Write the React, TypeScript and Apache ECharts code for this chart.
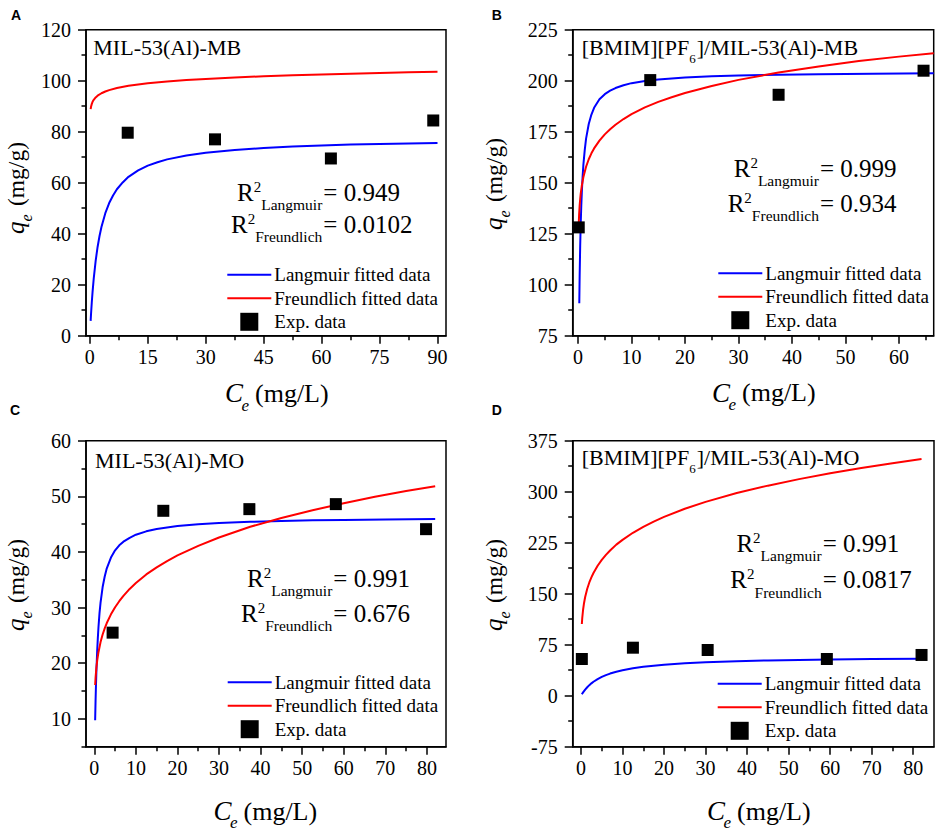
import React, { useEffect, useRef } from 'react';
import * as echarts from 'echarts';

const SERIF = 'Liberation Serif, serif';
const SANS = 'Liberation Sans, sans-serif';

// ---------- Panel A : MIL-53(Al)-MB ----------
const aLangmuir = [[0.2, 5.83], [0.3, 8.43], [0.5, 13.1], [0.7, 17.17], [1, 22.41], [1.5, 29.38], [2, 34.79], [2.5, 39.11], [3, 42.63], [4, 48.05], [5, 52.02], [6, 55.0], [7, 57.44], [8.5, 60.1], [10, 62.31], [12.5, 64.8], [15, 66.7], [17.5, 68.0], [20, 69.15], [25, 70.7], [30, 71.78], [37.5, 72.8], [45, 73.64], [52.5, 74.2], [60, 74.6], [67.5, 74.95], [75, 75.2], [82.5, 75.42], [90, 75.6]];
const aFreundlich = [[0.2, 88.86], [0.3, 89.76], [0.5, 90.91], [0.7, 91.7], [1, 92.5], [1.5, 93.44], [2, 94.12], [3, 95.08], [4, 95.75], [5, 96.3], [7, 97.11], [10, 97.98], [12.5, 98.52], [15, 98.98], [20, 99.69], [25, 100.24], [30, 100.71], [37.5, 101.28], [45, 101.74], [52.5, 102.13], [60, 102.47], [67.5, 102.77], [75, 103.04], [82.5, 103.29], [90, 103.51]];
const aExp = [[9.8, 79.6], [32.4, 77.0], [62.4, 69.5], [88.9, 84.4]];
const aXTicks = [0, 15, 30, 45, 60, 75, 90];
const aXMinor = [7.5, 22.5, 37.5, 52.5, 67.5, 82.5];
const aYTicks = [0, 20, 40, 60, 80, 100, 120];
const aYMinor = [10, 30, 50, 70, 90, 110];

// ---------- Panel B : [BMIM][PF6]/MIL-53(Al)-MB ----------
const bLangmuir = [[0.23, 90.9], [0.3, 104.4], [0.4, 119.0], [0.5, 129.9], [0.6, 138.3], [0.7, 145.0], [0.85, 152.8], [1, 158.9], [1.25, 166.0], [1.5, 171.6], [2, 178.8], [2.5, 183.4], [3, 186.7], [4, 190.9], [5, 193.4], [6, 195.1], [7, 196.4], [8.5, 197.8], [10, 198.8], [12.5, 199.9], [15, 200.6], [20, 201.6], [25, 202.2], [30, 202.6], [37.5, 202.95], [45, 203.2], [55, 203.45], [66.5, 203.6]];
const bFreundlich = [[0.12, 129.0], [0.2, 134.4], [0.3, 138.8], [0.4, 142.0], [0.5, 144.6], [0.7, 148.5], [1, 152.8], [1.5, 157.8], [2, 161.5], [2.5, 164.4], [3, 166.8], [4, 170.6], [5, 173.7], [6, 176.2], [7, 178.4], [8.5, 181.2], [10, 183.6], [12.5, 186.9], [15, 189.6], [17.5, 191.9], [20, 194.0], [25, 197.4], [30, 200.4], [37.5, 204.0], [45, 207.0], [52.5, 209.6], [60, 211.8], [66.5, 213.5]];
const bExp = [[0.13, 128.1], [13.5, 200.3], [37.5, 193.1], [64.6, 204.9]];
const bXTicks = [0, 10, 20, 30, 40, 50, 60];
const bXMinor = [5, 15, 25, 35, 45, 55, 65];
const bYTicks = [75, 100, 125, 150, 175, 200, 225];
const bYMinor = [87.5, 112.5, 137.5, 162.5, 187.5, 212.5];

// ---------- Panel C : MIL-53(Al)-MO ----------
const cLangmuir = [[0.2, 9.76], [0.3, 13.24], [0.4, 16.1], [0.5, 18.54], [0.7, 22.37], [0.85, 24.6], [1, 26.48], [1.25, 29.0], [1.5, 30.89], [2, 33.7], [2.5, 35.6], [3, 37.07], [4, 39.0], [5, 40.29], [6, 41.2], [7, 41.85], [8.5, 42.55], [10, 43.1], [12.5, 43.71], [15, 44.13], [20, 44.66], [25, 44.98], [30, 45.2], [37.5, 45.41], [45, 45.57], [52.5, 45.68], [60, 45.76], [70, 45.84], [82, 45.91]];
const cFreundlich = [[0.2, 16.08], [0.3, 17.4], [0.5, 19.22], [0.7, 20.52], [1, 21.99], [1.5, 23.8], [2, 25.16], [2.5, 26.26], [3, 27.23], [4, 28.79], [5, 30.07], [6, 31.15], [7, 32.11], [8.5, 33.36], [10, 34.41], [12.5, 35.97], [15, 37.24], [17.5, 38.36], [20, 39.38], [25, 41.09], [30, 42.61], [37.5, 44.53], [45, 46.11], [52.5, 47.5], [60, 48.76], [67.5, 49.91], [75, 50.97], [82, 51.82]];
const cExp = [[4.4, 25.5], [16.6, 47.4], [37.3, 47.7], [58.1, 48.6], [79.8, 44.1]];
const cXTicks = [0, 10, 20, 30, 40, 50, 60, 70, 80];
const cXMinor = [5, 15, 25, 35, 45, 55, 65, 75];
const cYTicks = [10, 20, 30, 40, 50, 60];
const cYMinor = [5, 15, 25, 35, 45, 55];

// ---------- Panel D : [BMIM][PF6]/MIL-53(Al)-MO ----------
const dLangmuir = [[0.2, 2.04], [0.5, 4.84], [1, 8.94], [1.5, 12.44], [2, 15.49], [2.5, 18.14], [3, 20.51], [4, 24.36], [5, 27.67], [6, 30.31], [7, 32.54], [8.5, 35.24], [10, 37.49], [12.5, 40.39], [15, 42.53], [17.5, 44.2], [20, 45.59], [25, 47.65], [30, 49.12], [37.5, 50.7], [45, 51.8], [52.5, 52.62], [60, 53.25], [70, 53.91], [82, 54.48]];
const dFreundlich = [[0.2, 105.4], [0.3, 114.3], [0.5, 126.4], [0.7, 135.2], [1, 145.1], [1.5, 157.3], [2, 166.5], [2.5, 174.0], [3, 180.5], [4, 191.1], [5, 199.7], [6, 207.1], [7, 213.5], [8.5, 222.2], [10, 229.2], [12.5, 239.6], [15, 248.4], [17.5, 256.1], [20, 263.0], [25, 275.0], [30, 285.0], [37.5, 298.0], [45, 308.9], [52.5, 318.5], [60, 327.1], [67.5, 334.8], [75, 341.8], [82, 348.0]];
const dExp = [[0.2, 54.0], [12.5, 70.6], [30.5, 67.2], [59.2, 54.0], [82.0, 59.9]];
const dXTicks = [0, 10, 20, 30, 40, 50, 60, 70, 80];
const dXMinor = [5, 15, 25, 35, 45, 55, 65, 75];
const dYTicks = [-75, 0, 75, 150, 225, 300, 375];
const dYMinor = [-37.5, 37.5, 112.5, 187.5, 262.5, 337.5];

const LEGEND_NAMES = ['Langmuir fitted data', 'Freundlich fitted data', 'Exp. data'];
const BLUE = '#0000ff';
const RED = '#ff0000';

const measure = (() => {
  let ctx: CanvasRenderingContext2D | null = null;
  return (text: string, fs: number, family = SERIF) => {
    if (!ctx) ctx = document.createElement('canvas').getContext('2d');
    if (!ctx) return text.length * fs * 0.5;
    ctx.font = `${fs}px ${family}`;
    return ctx.measureText(text).width;
  };
})();

function T(x: number, baseline: number, text: string, fs: number, extra: any = {}) {
  return {
    type: 'text',
    x,
    y: baseline - 0.3375 * fs,
    silent: true,
    style: {
      text,
      fontSize: fs,
      fontFamily: extra.family || SERIF,
      fontStyle: extra.italic ? 'italic' : 'normal',
      fontWeight: extra.bold ? 'bold' : 'normal',
      fill: '#000',
      align: extra.align || 'left',
      verticalAlign: 'middle',
    },
  };
}

function r2Block(eqX: number, b1: number, b2: number, v1: string, v2: string) {
  const els: any[] = [];
  const lines: [number, string, string][] = [[b1, 'Langmuir', v1], [b2, 'Freundlich', v2]];
  for (const [b, sub, v] of lines) {
    els.push(T(eqX, b, v, 25));
    els.push(T(eqX - 1, b + 9.5, sub, 15.5, { align: 'right' }));
    const subLeft = eqX - 1 - measure(sub, 15.5);
    els.push(T(subLeft - 7.5, b - 9, '2', 15));
    els.push(T(subLeft - 7.5, b, 'R', 25, { align: 'right' }));
  }
  return els;
}

function bmimTitle(x: number, b: number, tail: string) {
  const p1 = '[BMIM][PF';
  const w1 = measure(p1, 22);
  return [T(x, b, p1, 22), T(x + w1, b + 8, '6', 13), T(x + w1 + 7.5, b, ']/MIL-53(Al)-' + tail, 22)];
}

function xTitle(X: number, Y: number) {
  return [T(X, Y, 'C', 27, { italic: true }), T(X + 16.5, Y + 8.5, 'e', 17, { italic: true }), T(X + 30, Y, '(mg/L)', 26)];
}

function yTitle(bx: number, sy: number) {
  return {
    type: 'group',
    x: bx,
    y: sy,
    rotation: Math.PI / 2,
    children: [T(0, 0, 'q', 25, { italic: true }), T(12.5, 8, 'e', 16, { italic: true }), T(28, 0, '(mg/g)', 23.5)],
  };
}

function axisPair(gridIndex: number, isX: boolean, min: number, max: number, majors: number[], minors: number[]) {
  const pos = isX ? 'bottom' : 'left';
  const major = {
    type: 'value',
    gridIndex,
    position: pos,
    min,
    max,
    axisLine: { show: true, onZero: false, lineStyle: { color: '#000', width: 1.5 } },
    axisTick: { show: true, inside: false, length: 8, lineStyle: { color: '#000', width: 1.5 }, customValues: majors },
    axisLabel: {
      show: true,
      customValues: majors,
      margin: isX ? 11 : 15,
      fontSize: 20,
      fontFamily: SERIF,
      color: '#000',
    },
    splitLine: { show: false },
    axisPointer: { show: false },
  };
  const minor = {
    type: 'value',
    gridIndex,
    position: pos,
    min,
    max,
    axisLine: { show: false, onZero: false },
    axisTick: { show: true, inside: false, length: 4.5, lineStyle: { color: '#000', width: 1.5 }, customValues: minors },
    axisLabel: { show: false },
    splitLine: { show: false },
    axisPointer: { show: false },
  };
  return [major, minor];
}

function legendAt(left: number, top: number) {
  return {
    left,
    top,
    orient: 'vertical',
    padding: 0,
    itemWidth: 44,
    itemHeight: 18,
    itemGap: 4.5,
    selectedMode: false,
    textStyle: { fontFamily: SERIF, fontSize: 19, color: '#000', padding: [0, 0, 0, -2] },
    data: [
      { name: LEGEND_NAMES[0], icon: 'path://M0,0H44V2H0Z', itemStyle: { color: BLUE, borderWidth: 0, opacity: 1 } },
      { name: LEGEND_NAMES[1], icon: 'path://M0,0H44V2H0Z', itemStyle: { color: RED, borderWidth: 0, opacity: 1 } },
      { name: LEGEND_NAMES[2], icon: 'path://M0,0H10V10H0Z', itemStyle: { color: '#000', borderWidth: 0, opacity: 1 } },
    ],
  };
}

const panels = [
  { grid: { left: 86, top: 29.7, width: 360, height: 306 }, x: [-1, 92.2, aXTicks, aXMinor], y: [0, 120, aYTicks, aYMinor], lang: aLangmuir, freu: aFreundlich, exp: aExp },
  { grid: { left: 572.7, top: 29.7, width: 361, height: 306 }, x: [-1, 66.5, bXTicks, bXMinor], y: [75, 225, bYTicks, bYMinor], lang: bLangmuir, freu: bFreundlich, exp: bExp },
  { grid: { left: 86, top: 440.7, width: 360, height: 306 }, x: [-2, 84.6, cXTicks, cXMinor], y: [5, 60, cYTicks, cYMinor], lang: cLangmuir, freu: cFreundlich, exp: cExp },
  { grid: { left: 572.7, top: 440.7, width: 361.3, height: 306 }, x: [-2, 85, dXTicks, dXMinor], y: [-75, 375, dYTicks, dYMinor], lang: dLangmuir, freu: dFreundlich, exp: dExp },
];

function buildOption() {
  const grid: any[] = [];
  const xAxis: any[] = [];
  const yAxis: any[] = [];
  const series: any[] = [];
  panels.forEach((p, i) => {
    grid.push({ ...p.grid, show: true, borderColor: '#000', borderWidth: 1.5, backgroundColor: 'transparent' });
    xAxis.push(...axisPair(i, true, p.x[0] as number, p.x[1] as number, p.x[2] as number[], p.x[3] as number[]));
    yAxis.push(...axisPair(i, false, p.y[0] as number, p.y[1] as number, p.y[2] as number[], p.y[3] as number[]));
    const ax = { xAxisIndex: 2 * i, yAxisIndex: 2 * i };
    series.push({
      type: 'line', name: LEGEND_NAMES[0], data: p.lang, ...ax, symbol: 'none', smooth: false,
      lineStyle: { color: BLUE, width: 2, join: 'round' }, itemStyle: { color: BLUE }, silent: true, clip: true, z: 2,
    });
    series.push({
      type: 'line', name: LEGEND_NAMES[1], data: p.freu, ...ax, symbol: 'none', smooth: false,
      lineStyle: { color: RED, width: 2, join: 'round' }, itemStyle: { color: RED }, silent: true, clip: true, z: 2,
    });
    series.push({
      type: 'scatter', name: LEGEND_NAMES[2], data: p.exp, ...ax, symbol: 'rect', symbolSize: 12,
      itemStyle: { color: '#000', opacity: 1 }, silent: true, z: 3,
    });
  });

  const graphic: any[] = [
    T(11, 19.3, 'A', 14, { bold: true, family: SANS }),
    T(491.7, 19.3, 'B', 14, { bold: true, family: SANS }),
    T(10, 415, 'C', 14, { bold: true, family: SANS }),
    T(491.7, 415, 'D', 14, { bold: true, family: SANS }),
    T(93.3, 54.5, 'MIL-53(Al)-MB', 22),
    ...bmimTitle(581.7, 55, 'MB'),
    T(95, 468.3, 'MIL-53(Al)-MO', 22),
    ...bmimTitle(581.7, 465, 'MO'),
    ...r2Block(323.3, 200.7, 232.7, '= 0.949', '= 0.0102'),
    ...r2Block(820, 176.7, 211.7, '= 0.999', '= 0.934'),
    ...r2Block(333.3, 586.7, 621.7, '= 0.991', '= 0.676'),
    ...r2Block(822.7, 551.7, 588.3, '= 0.991', '= 0.0817'),
    ...xTitle(225, 402.5),
    ...xTitle(712, 401.7),
    ...xTitle(213.5, 820),
    ...xTitle(707, 820),
    yTitle(23.5, 234),
    yTitle(502, 230),
    yTitle(23.5, 631),
    yTitle(502, 631),
  ];

  return {
    animation: false,
    backgroundColor: '#ffffff',
    grid,
    xAxis,
    yAxis,
    series,
    legend: [legendAt(227.3, 265.3), legendAt(718.3, 263.7), legendAt(227.7, 672.7), legendAt(717.7, 674.3)],
    graphic,
    tooltip: { show: false },
  };
}

export default function App() {
  const ref = useRef<HTMLDivElement>(null);
  useEffect(() => {
    if (!ref.current) return;
    const chart = echarts.init(ref.current, null, { renderer: 'svg' });
    chart.setOption(buildOption() as any);
    return () => {
      chart.dispose();
    };
  }, []);
  return (
    <div
      ref={ref}
      style={{ position: 'absolute', left: 0, top: 0, width: 939, height: 832, background: '#fff' }}
    />
  );
}
